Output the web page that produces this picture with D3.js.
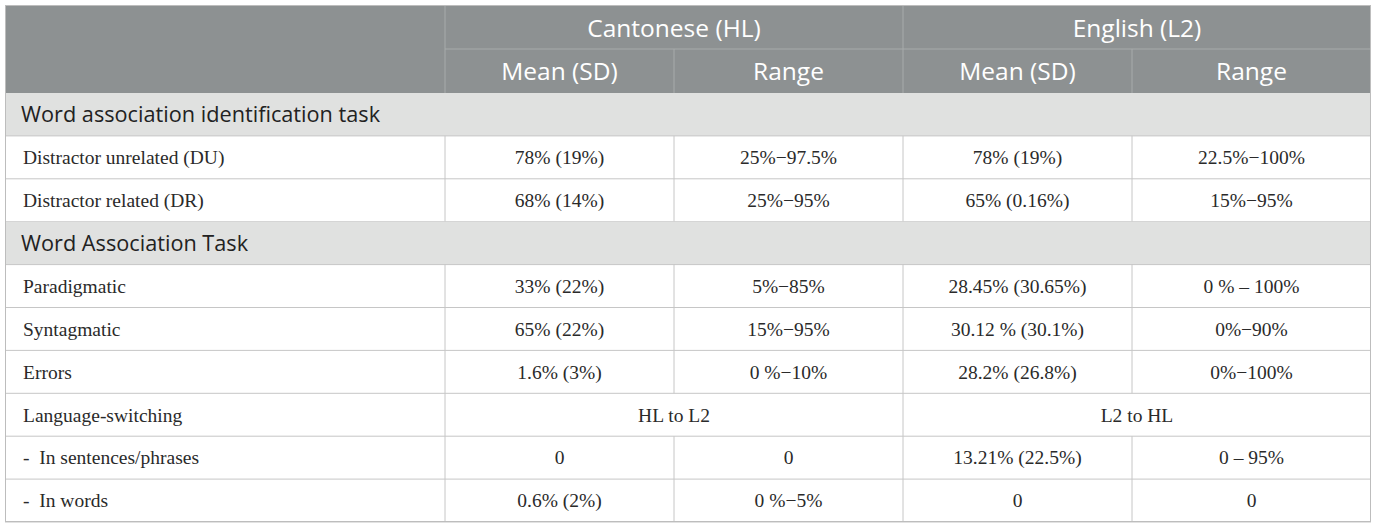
<!DOCTYPE html>
<html lang="en">
<head>
<meta charset="UTF-8">
<title>Word association table</title>
<script src="https://d3js.org/d3.v7.min.js"></script>
<style>
  body { margin: 0; background: #fff; }
</style>
</head>
<body>
<script>
    // table content
    var groupLabels = ["Cantonese (HL)", "English (L2)"];
    var colLabels = ["Mean (SD)", "Range", "Mean (SD)", "Range"];
    var sectionLabels = ["Word association identification task", "Word Association Task"];

    var rowLabels = ["Distractor unrelated (DU)", "Distractor related (DR)",
        "Paradigmatic", "Syntagmatic", "Errors",
        "Language-switching", "-  In sentences/phrases", "-  In words"];
    var rowSection = [0, 0, 1, 1, 1, 1, 1, 1];

    var cellValues = [
        ["78% (19%)", "25%\u221297.5%", "78% (19%)", "22.5%\u2212100%"],
        ["68% (14%)", "25%\u221295%", "65% (0.16%)", "15%\u221295%"],
        ["33% (22%)", "5%\u221285%", "28.45% (30.65%)", "0 % \u2013 100%"],
        ["65% (22%)", "15%\u221295%", "30.12 % (30.1%)", "0%\u221290%"],
        ["1.6% (3%)", "0 %\u221210%", "28.2% (26.8%)", "0%\u2212100%"],
        null,
        ["0", "0", "13.21% (22.5%)", "0 \u2013 95%"],
        ["0.6% (2%)", "0 %\u22125%", "0", "0"]
    ];
    // rows where a value spans a whole language group
    var spanValues = { 5: ["HL to L2", "L2 to HL"] };

    var W = 1376, H = 529;
    var svg = d3.select("body").append("svg")
        .attr("width", W).attr("height", H);

    // column edges: label column + four value columns
    var colEdges = [5, 445, 674, 903, 1132, 1371];
    var colX = d3.scaleOrdinal().domain(d3.range(6)).range(colEdges);

    // body lines: 2 section rows + 8 data rows
    var lines = [];
    rowLabels.forEach(function (lab, i) {
        if (i === 0 || rowSection[i] !== rowSection[i - 1]) {
            lines.push({ type: "section", text: sectionLabels[rowSection[i]] });
        }
        lines.push({ type: "data", idx: i, text: lab });
    });

    var headerY = d3.scaleBand().domain([0, 1]).range([5, 93]);
    var rowY = d3.scaleBand().domain(d3.range(lines.length)).range([93, 522]);

    var hdrFill = "#8d9192", secFill = "#e0e1e0", lineCol = "#c6c6c6";
    var sans = "'Open Sans', sans-serif", serif = "'Liberation Serif', 'DejaVu Serif', serif";

    // header background
    svg.append("rect")
        .attr("x", colX(0)).attr("y", headerY(0))
        .attr("width", colX(5) - colX(0)).attr("height", headerY.bandwidth() * 2)
        .attr("fill", hdrFill);

    // header lines
    var hdr = svg.append("g");
    hdr.append("line")
        .attr("x1", colX(1)).attr("x2", colX(5))
        .attr("y1", headerY(1)).attr("y2", headerY(1))
        .attr("stroke", "#a7abab");
    [1, 3].forEach(function (c) {
        hdr.append("line")
            .attr("x1", colX(c)).attr("x2", colX(c))
            .attr("y1", headerY(0)).attr("y2", headerY(1) + headerY.bandwidth())
            .attr("stroke", "#a7abab");
    });
    [2, 4].forEach(function (c) {
        hdr.append("line")
            .attr("x1", colX(c)).attr("x2", colX(c))
            .attr("y1", headerY(1)).attr("y2", headerY(1) + headerY.bandwidth())
            .attr("stroke", "#a7abab");
    });

    hdr.selectAll("text.grp")
        .data(groupLabels)
        .enter().append("text")
        .attr("class", "grp")
        .attr("x", function (d, i) { return (colX(1 + 2 * i) + colX(3 + 2 * i)) / 2; })
        .attr("y", headerY(0) + headerY.bandwidth() / 2 + 1)
        .attr("dy", "0.35em")
        .attr("text-anchor", "middle")
        .attr("fill", "#fff")
        .style("font-family", sans).style("font-size", "24.5px")
        .text(function (d) { return d; });

    hdr.selectAll("text.col")
        .data(colLabels)
        .enter().append("text")
        .attr("class", "col")
        .attr("x", function (d, i) { return (colX(i + 1) + colX(i + 2)) / 2; })
        .attr("y", headerY(1) + headerY.bandwidth() / 2)
        .attr("dy", "0.35em")
        .attr("text-anchor", "middle")
        .attr("fill", "#fff")
        .style("font-family", sans).style("font-size", "24.5px")
        .text(function (d) { return d; });

    // body rows
    var rows = svg.selectAll("g.row")
        .data(lines)
        .enter().append("g")
        .attr("class", "row")
        .attr("transform", function (d, i) { return "translate(0," + rowY(i) + ")"; });

    rows.filter(function (d) { return d.type === "section"; })
        .append("rect")
        .attr("x", colX(0)).attr("width", colX(5) - colX(0))
        .attr("height", rowY.bandwidth())
        .attr("fill", secFill);

    rows.filter(function (d) { return d.type === "section"; })
        .append("text")
        .attr("x", colX(0) + 16)
        .attr("y", rowY.bandwidth() / 2)
        .attr("dy", "0.35em")
        .attr("fill", "#222")
        .style("font-family", sans).style("font-size", "21.7px")
        .text(function (d) { return d.text; });

    // horizontal row lines
    rows.append("line")
        .attr("x1", colX(0)).attr("x2", colX(5))
        .attr("y1", rowY.bandwidth()).attr("y2", rowY.bandwidth())
        .attr("stroke", lineCol);

    var dataRows = rows.filter(function (d) { return d.type === "data"; });

    dataRows.append("text")
        .attr("x", colX(0) + 18)
        .attr("y", rowY.bandwidth() / 2)
        .attr("dy", "0.35em")
        .attr("fill", "#2a2a2a")
        .style("font-family", serif).style("font-size", "19.5px")
        .style("white-space", "pre")
        .attr("xml:space", "preserve")
        .text(function (d) { return d.text; });

    dataRows.each(function (d) {
        var g = d3.select(this);
        var span = spanValues[d.idx];
        var vcols = span ? [1, 3] : [1, 2, 3, 4];
        vcols.forEach(function (c) {
            g.append("line")
                .attr("x1", colX(c)).attr("x2", colX(c))
                .attr("y1", 0).attr("y2", rowY.bandwidth())
                .attr("stroke", lineCol);
        });
        var cells = span
            ? span.map(function (v, i) { return { v: v, x: (colX(1 + 2 * i) + colX(3 + 2 * i)) / 2 }; })
            : cellValues[d.idx].map(function (v, i) { return { v: v, x: (colX(i + 1) + colX(i + 2)) / 2 }; });
        g.selectAll("text.val")
            .data(cells)
            .enter().append("text")
            .attr("class", "val")
            .attr("x", function (c) { return c.x; })
            .attr("y", rowY.bandwidth() / 2)
            .attr("dy", "0.35em")
            .attr("text-anchor", "middle")
            .attr("fill", "#2a2a2a")
            .style("font-family", serif).style("font-size", "19.5px")
            .text(function (c) { return c.v; });
    });

    // outer border
    svg.append("rect")
        .attr("x", colX(0) + 0.5).attr("y", headerY(0) + 0.5)
        .attr("width", colX(5) - colX(0) - 1).attr("height", 522 - headerY(0) - 1)
        .attr("fill", "none")
        .attr("stroke", "#bdbdbd");
</script>
</body>
</html>
